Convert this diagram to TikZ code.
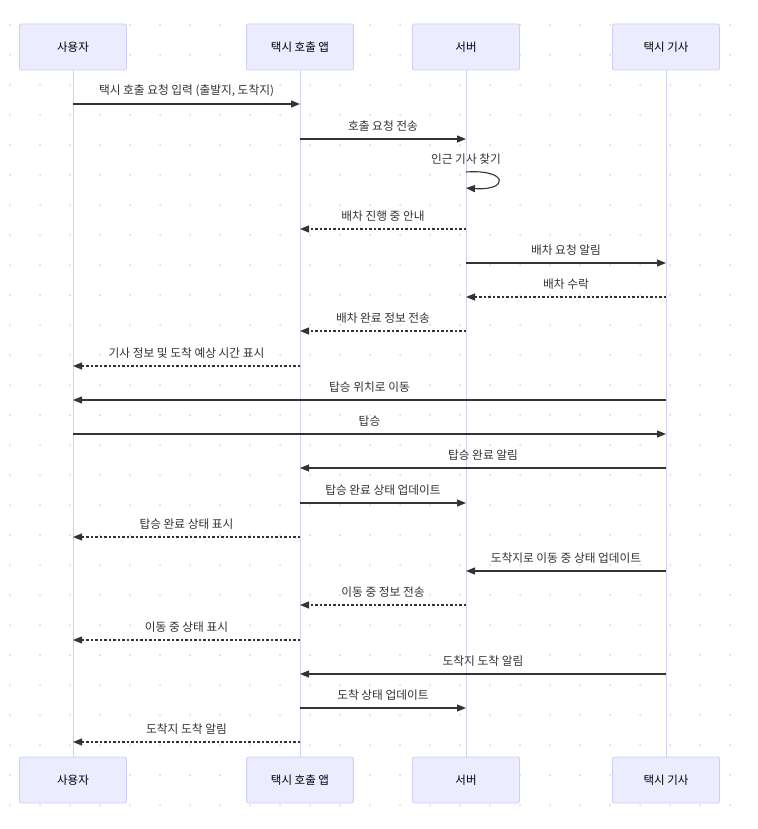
\documentclass[tikz,border=0pt]{standalone}
\usepackage{fontspec}
\setmainfont{Noto Sans CJK KR}
\usetikzlibrary{arrows.meta}
\definecolor{boxfill}{HTML}{ECECFF}
\definecolor{boxline}{HTML}{CFCDF2}
\definecolor{lifeline}{HTML}{D3D0F0}
\definecolor{msgcol}{HTML}{333333}
\definecolor{dotcol}{HTML}{DADADA}
\tikzset{
  actor/.style={draw=boxline, fill=boxfill, line width=0.8pt, rounded corners=2pt,
    minimum width=107pt, minimum height=46pt, inner sep=0pt,
    font=\fontsize{11.5}{13}\selectfont, text=black},
  lline/.style={draw=lifeline, line width=1pt},
  msg/.style={draw=msgcol, line width=1.1pt, -{Triangle[length=9pt,width=7pt]}},
  rmsg/.style={msg, dash pattern=on 2.5pt off 2pt},
  lbl/.style={font=\fontsize{11.7}{13}\selectfont, text=msgcol, inner sep=0pt}
}
\begin{document}
\begin{tikzpicture}[x=1pt,y=-1pt]
\useasboundingbox (0,0) rectangle (757,829);
\fill[white] (0,0) rectangle (757,829);
\foreach \i in {0,...,25}{
  \foreach \j in {0,...,26}{
    \fill[dotcol] (10+30*\i,25+30*\j) circle (1pt);
  }
}
% participants
\node[actor] (ut) at (73,47) {사용자};
\node[actor] (at) at (300,47) {택시 호출 앱};
\node[actor] (st) at (466,47) {서버};
\node[actor] (dt) at (666,47) {택시 기사};
\node[actor] (ub) at (73,780) {사용자};
\node[actor] (ab) at (300,780) {택시 호출 앱};
\node[actor] (sb) at (466,780) {서버};
\node[actor] (db) at (666,780) {택시 기사};
% lifelines
\draw[lline] (ut.south) -- (ub.north);
\draw[lline] (at.south) -- (ab.north);
\draw[lline] (st.south) -- (sb.north);
\draw[lline] (dt.south) -- (db.north);
% messages
\newcommand{\mymsg}[5]{%
  \draw[#5] (#1.south |- 0,#3) -- node[lbl, yshift=13pt] {#4} (#2.south |- 0,#3);}
\mymsg{ut}{at}{104}{택시 호출 요청 입력 (출발지, 도착지)}{msg}
\mymsg{at}{st}{139}{호출 요청 전송}{msg}
\node[lbl] (selflbl) at (466,159) {인근 기사 찾기};
\draw[msg] (st.south |- 0,172) .. controls (509,169) and (509,191) .. (st.south |- 0,188);
\mymsg{st}{at}{229}{배차 진행 중 안내}{rmsg}
\mymsg{st}{dt}{263}{배차 요청 알림}{msg}
\mymsg{dt}{st}{297}{배차 수락}{rmsg}
\mymsg{st}{at}{331}{배차 완료 정보 전송}{rmsg}
\mymsg{at}{ut}{366}{기사 정보 및 도착 예상 시간 표시}{rmsg}
\mymsg{dt}{ut}{400}{탑승 위치로 이동}{msg}
\mymsg{ut}{dt}{434}{탑승}{msg}
\mymsg{dt}{at}{468}{탑승 완료 알림}{msg}
\mymsg{at}{st}{503}{탑승 완료 상태 업데이트}{msg}
\mymsg{at}{ut}{537}{탑승 완료 상태 표시}{rmsg}
\mymsg{dt}{st}{571}{도착지로 이동 중 상태 업데이트}{msg}
\mymsg{st}{at}{605}{이동 중 정보 전송}{rmsg}
\mymsg{at}{ut}{640}{이동 중 상태 표시}{rmsg}
\mymsg{dt}{at}{674}{도착지 도착 알림}{msg}
\mymsg{at}{st}{708}{도착 상태 업데이트}{msg}
\mymsg{at}{ut}{742}{도착지 도착 알림}{rmsg}
\end{tikzpicture}
\end{document}
